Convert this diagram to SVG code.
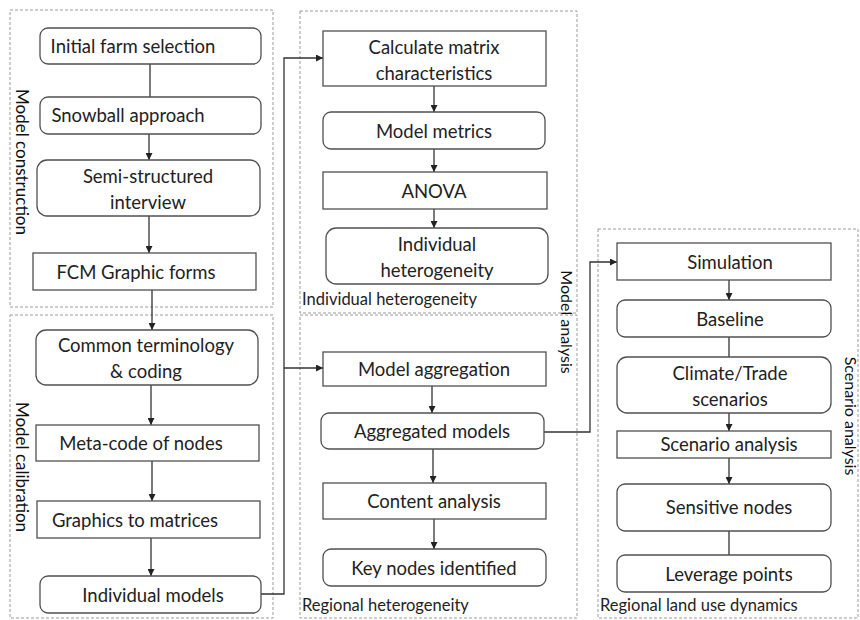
<svg xmlns="http://www.w3.org/2000/svg" width="860" height="620" viewBox="0 0 860 620">
<style>
.grp{fill:none;stroke:#9a9a9a;stroke-width:1;stroke-dasharray:3,2}
.nd{fill:#fff;stroke:#505050;stroke-width:1.3}
.t{font-family:Lato,"Liberation Sans",sans-serif;font-size:18.5px;fill:#222;text-anchor:middle}
.lb{font-family:Lato,"Liberation Sans",sans-serif;font-size:16.5px;fill:#222}
.vl{font-family:Lato,"Liberation Sans",sans-serif;font-size:17px;fill:#111;text-anchor:middle}
.c{fill:none;stroke:#333;stroke-width:1.3}
</style>
<defs>
<marker id="ah" viewBox="0 0 10 10" refX="10" refY="5" markerWidth="7" markerHeight="7" markerUnits="userSpaceOnUse" orient="auto">
<path d="M0,0 L10,5 L0,10 z" fill="#222"/>
</marker>
</defs>
<rect width="860" height="620" fill="#fff"/>
<g id="groups">
<rect class="grp" x="10" y="10" width="263" height="297"/>
<rect class="grp" x="10" y="315" width="263" height="303"/>
<rect class="grp" x="300" y="11" width="277" height="302"/>
<rect class="grp" x="300" y="315" width="277" height="303"/>
<rect class="grp" x="598" y="229" width="260" height="389"/>
<text class="lb" x="302" y="305">Individual heterogeneity</text>
<text class="lb" x="302" y="611">Regional heterogeneity</text>
<text class="lb" x="600" y="611">Regional land use dynamics</text>
<text class="vl" transform="translate(16,162) rotate(90)">Model construction</text>
<text class="vl" transform="translate(16,467) rotate(90)">Model calibration</text>
<text class="vl" style="font-size:16px" transform="translate(561,322) rotate(90)">Model analysis</text>
<text class="vl" style="font-size:16px" transform="translate(845,416) rotate(90)">Scenario analysis</text>
</g>
<g id="connectors">
<line class="c" x1="150" y1="64" x2="150" y2="97"/>
<line class="c" x1="149" y1="134" x2="149" y2="160" marker-end="url(#ah)"/>
<line class="c" x1="149" y1="216" x2="149" y2="253" marker-end="url(#ah)"/>
<line class="c" x1="152" y1="290" x2="152" y2="330" marker-end="url(#ah)"/>
<line class="c" x1="151" y1="385" x2="151" y2="425" marker-end="url(#ah)"/>
<line class="c" x1="152" y1="461" x2="152" y2="501" marker-end="url(#ah)"/>
<line class="c" x1="151" y1="538" x2="151" y2="576" marker-end="url(#ah)"/>
<polyline class="c" points="261,594 284,594 284,58 323,58" marker-end="url(#ah)"/>
<line class="c" x1="284" y1="368" x2="323" y2="368" marker-end="url(#ah)"/>
<line class="c" x1="434" y1="86" x2="434" y2="112" marker-end="url(#ah)"/>
<line class="c" x1="434" y1="149" x2="434" y2="172" marker-end="url(#ah)"/>
<line class="c" x1="434" y1="209" x2="434" y2="228" marker-end="url(#ah)"/>
<line class="c" x1="432" y1="386" x2="432" y2="413" marker-end="url(#ah)"/>
<line class="c" x1="433" y1="449" x2="433" y2="483" marker-end="url(#ah)"/>
<line class="c" x1="434" y1="519" x2="434" y2="549" marker-end="url(#ah)"/>
<polyline class="c" points="544,432 590,432 590,262 617,262" marker-end="url(#ah)"/>
<line class="c" x1="729" y1="280" x2="729" y2="300" marker-end="url(#ah)"/>
<line class="c" x1="729" y1="337" x2="729" y2="357"/>
<line class="c" x1="729" y1="413" x2="729" y2="431" marker-end="url(#ah)"/>
<line class="c" x1="729" y1="458" x2="729" y2="484" marker-end="url(#ah)"/>
<line class="c" x1="729" y1="531" x2="729" y2="555"/>
</g>
<g id="n-initial"><rect class="nd" x="40" y="28" width="221" height="36" rx="8"/><text class="t" x="133" y="52.5">Initial farm selection</text></g>
<g id="n-snowball"><rect class="nd" x="40" y="97" width="221" height="37" rx="8"/><text class="t" x="128" y="122">Snowball approach</text></g>
<g id="n-semi"><rect class="nd" x="37" y="160" width="223" height="56" rx="10"/><text class="t" x="148" y="183">Semi-structured</text><text class="t" x="148" y="209">interview</text></g>
<g id="n-fcm"><rect class="nd" x="33" y="253" width="223" height="37"/><text class="t" x="136" y="278.5">FCM Graphic forms</text></g>
<g id="n-common"><rect class="nd" x="36" y="330" width="222" height="55" rx="10"/><text class="t" x="146" y="352">Common terminology</text><text class="t" x="146" y="378">&amp; coding</text></g>
<g id="n-meta"><rect class="nd" x="36" y="425" width="223" height="36"/><text class="t" x="141" y="449.5">Meta-code of nodes</text></g>
<g id="n-graphics"><rect class="nd" x="37" y="501" width="223" height="37"/><text class="t" x="135" y="526.5">Graphics to matrices</text></g>
<g id="n-indiv"><rect class="nd" x="40" y="576" width="221" height="37" rx="8"/><text class="t" x="153" y="601.5">Individual models</text></g>
<g id="n-calc"><rect class="nd" x="323" y="31" width="223" height="55"/><text class="t" x="434" y="54">Calculate matrix</text><text class="t" x="434" y="80">characteristics</text></g>
<g id="n-metrics"><rect class="nd" x="323" y="112" width="222" height="37" rx="8"/><text class="t" x="434" y="137.5">Model metrics</text></g>
<g id="n-anova"><rect class="nd" x="323" y="172" width="224" height="37"/><text class="t" x="434" y="197.5">ANOVA</text></g>
<g id="n-indhet"><rect class="nd" x="326" y="228" width="222" height="56" rx="10"/><text class="t" x="437" y="251">Individual</text><text class="t" x="437" y="277">heterogeneity</text></g>
<g id="n-aggr"><rect class="nd" x="323" y="352" width="223" height="34"/><text class="t" x="434" y="375.5">Model aggregation</text></g>
<g id="n-aggmodels"><rect class="nd" x="321" y="413" width="223" height="36" rx="8"/><text class="t" x="432" y="437.5">Aggregated models</text></g>
<g id="n-content"><rect class="nd" x="323" y="483" width="223" height="36"/><text class="t" x="434" y="507.5">Content analysis</text></g>
<g id="n-key"><rect class="nd" x="323" y="549" width="223" height="37" rx="8"/><text class="t" x="434" y="574.5">Key nodes identified</text></g>
<g id="n-sim"><rect class="nd" x="617" y="243" width="214" height="37"/><text class="t" x="730" y="268.5">Simulation</text></g>
<g id="n-base"><rect class="nd" x="617" y="300" width="214" height="37" rx="8"/><text class="t" x="730" y="325.5">Baseline</text></g>
<g id="n-climate"><rect class="nd" x="617" y="357" width="214" height="56" rx="10"/><text class="t" x="730" y="380">Climate/Trade</text><text class="t" x="730" y="406">scenarios</text></g>
<g id="n-scen"><rect class="nd" x="617" y="431" width="214" height="27"/><text class="t" x="729" y="451">Scenario analysis</text></g>
<g id="n-sens"><rect class="nd" x="617" y="484" width="214" height="47" rx="8"/><text class="t" x="729" y="514">Sensitive nodes</text></g>
<g id="n-lev"><rect class="nd" x="617" y="555" width="214" height="37" rx="8"/><text class="t" x="729" y="580.5">Leverage points</text></g>
</svg>
